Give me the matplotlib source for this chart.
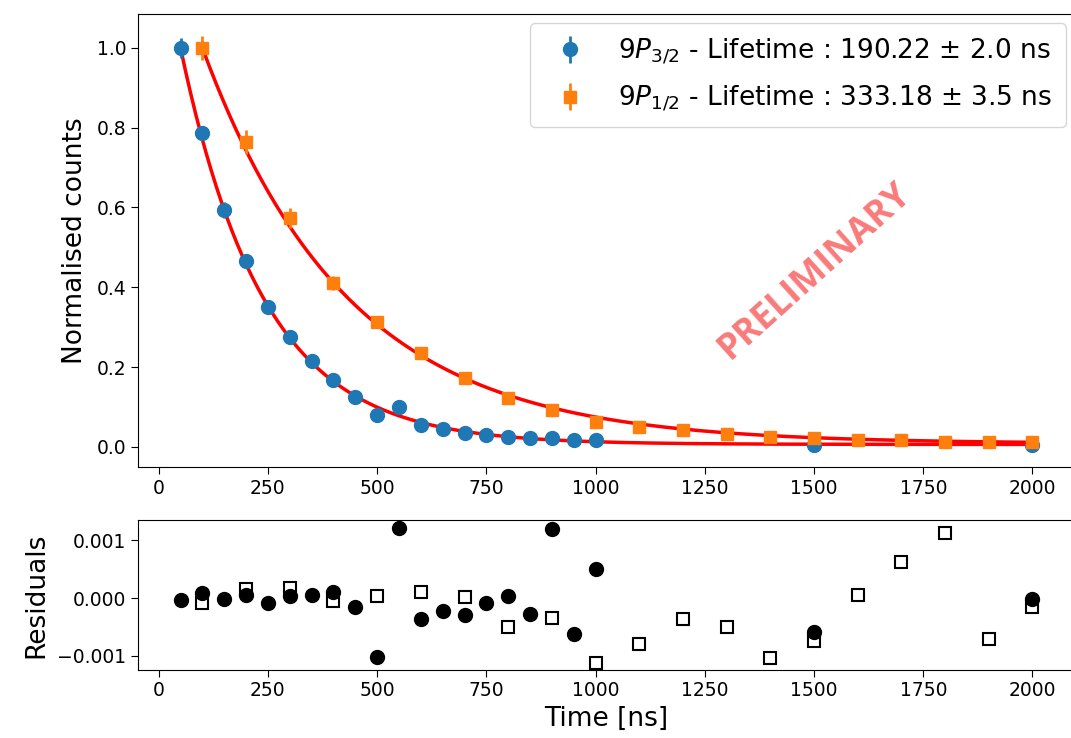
import numpy as np
import matplotlib
matplotlib.use('Agg')
import matplotlib.pyplot as plt

# data
t_32 = [50, 100, 150, 200, 250, 300, 350, 400, 450, 500, 550, 600, 650, 700,
        750, 800, 850, 900, 950, 1000, 1500, 2000]
y_32 = [1.0, 0.787, 0.594, 0.466, 0.351, 0.276, 0.216, 0.168, 0.125, 0.080,
        0.100, 0.055, 0.045, 0.035, 0.030, 0.025, 0.023, 0.022, 0.018, 0.016,
        0.004, 0.005]
e_32 = [0.025, 0.015, 0.02, 0.012, 0.01, 0.008, 0.007, 0.006, 0.005, 0.004,
        0.004, 0.003, 0.003, 0.002, 0.002, 0.002, 0.002, 0.002, 0.002, 0.002,
        0.001, 0.001]
res_32 = [-0.00003, 0.00008, -0.00001, 0.00005, -0.00009, 0.00003, 0.00005,
          0.00011, -0.00016, -0.00102, 0.00122, -0.00036, -0.00022, -0.0003,
          -0.00009, 0.00003, -0.00028, 0.00119, -0.00063, 0.0005, -0.00059,
          -0.00002]

t_12 = [100, 200, 300, 400, 500, 600, 700, 800, 900, 1000, 1100, 1200, 1300,
        1400, 1500, 1600, 1700, 1800, 1900, 2000]
y_12 = [1.0, 0.764, 0.574, 0.411, 0.313, 0.236, 0.173, 0.123, 0.093, 0.063,
        0.050, 0.043, 0.033, 0.025, 0.022, 0.018, 0.016, 0.013, 0.012, 0.012]
e_12 = [0.03, 0.03, 0.025, 0.018, 0.016, 0.012, 0.01, 0.008, 0.007, 0.006,
        0.005, 0.004, 0.004, 0.003, 0.003, 0.003, 0.002, 0.002, 0.002, 0.002]
res_12 = [-0.00009, 0.00015, 0.00018, -0.00005, 0.00003, 0.00011, 0.00001,
          -0.0005, -0.00035, -0.00112, -0.0008, -0.00036, -0.0005, -0.00104,
          -0.00074, 0.00005, 0.00062, 0.00112, -0.00071, -0.00015]

# fit parameters (lifetime from legend, small offsets)
tau_32, dtau_32, c_32 = 190.22, 2.0, 0.006
tau_12, dtau_12, c_12 = 333.18, 3.5, 0.008

fig = plt.figure(figsize=(10.71, 7.38), dpi=100)
ax1 = fig.add_axes([0.1288, 0.367, 0.875, 0.614])
ax2 = fig.add_axes([0.1288, 0.092, 0.875, 0.204])

tf = np.linspace(t_32[0], 2000, 500)
ax1.plot(tf, (1 - c_32) * np.exp(-(tf - t_32[0]) / tau_32) + c_32,
         color='red', lw=2.5, zorder=2)
ax1.errorbar(t_32, y_32, yerr=e_32, fmt='o', color='#1f77b4', ms=10,
             elinewidth=2, zorder=3,
             label=r'$9P_{3/2}$ - Lifetime : %.2f $\pm$ %.1f ns' % (tau_32, dtau_32))
tf = np.linspace(t_12[0], 2000, 500)
ax1.plot(tf, (1 - c_12) * np.exp(-(tf - t_12[0]) / tau_12) + c_12,
         color='red', lw=2.5, zorder=4)
ax1.errorbar(t_12, y_12, yerr=e_12, fmt='s', color='#ff7f0e', ms=8.5,
             elinewidth=2, zorder=5,
             label=r'$9P_{1/2}$ - Lifetime : %.2f $\pm$ %.1f ns' % (tau_12, dtau_12))

ax1.set_xlim(-47.5, 2097.5)
ax1.set_ylim(-0.051, 1.085)
ax1.set_ylabel('Normalised counts', fontsize=19, labelpad=6)
ax1.tick_params(labelsize=13.5, length=4.7)
ax1.legend(loc='upper right', fontsize=19, handletextpad=0.85,
           borderaxespad=0.35, borderpad=0.5, labelspacing=0.65)
ax1.text(1503, 0.44, 'PRELIMINARY', rotation=42, color='#f97a7a',
         fontsize=26, fontweight='bold', family='Open Sans',
         ha='center', va='center')

ax2.plot(t_12, res_12, 's', mfc='white', mec='black', mew=1.5, ms=9)
ax2.plot(t_32, res_32, 'o', color='black', ms=10)
ax2.set_xlim(-47.5, 2097.5)
ax2.set_ylim(-0.00125, 0.00136)
ax2.set_yticks([-0.001, 0.0, 0.001])
ax2.set_ylabel('Residuals', fontsize=19, labelpad=6)
ax2.set_xlabel('Time [ns]', fontsize=19)
ax2.tick_params(labelsize=13.5, length=4.7)

fig.savefig('out.png', dpi=100)
